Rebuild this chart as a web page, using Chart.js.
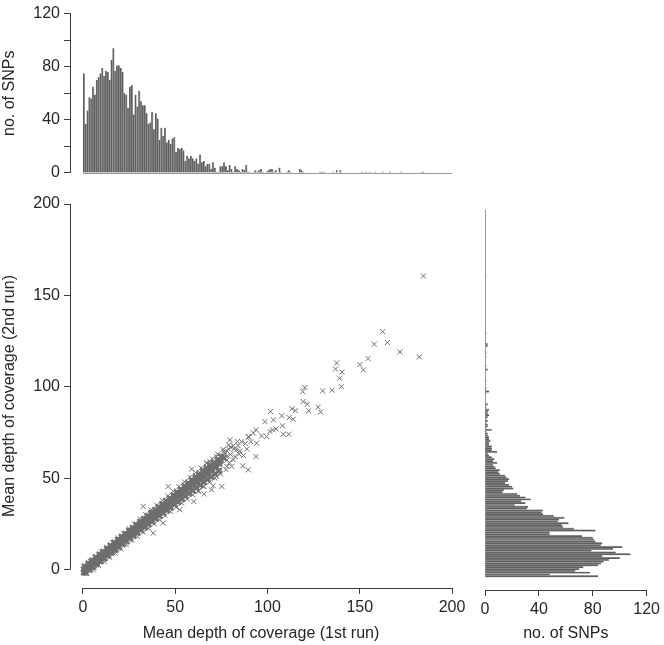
<!DOCTYPE html>
<html>
<head>
<meta charset="utf-8">
<script src="https://cdn.jsdelivr.net/npm/chart.js@4.4.0/dist/chart.umd.min.js"></script>
<style>
  html, body { margin: 0; padding: 0; background: #fff; }
  #wrap { position: relative; width: 664px; height: 645px; }
  #wrap canvas { position: absolute; left: 0; top: 0; }
</style>
</head>
<body>
<div id="wrap">
  <canvas id="top-hist" width="664" height="645"></canvas>
  <canvas id="scatter" width="664" height="645"></canvas>
  <canvas id="right-hist" width="664" height="645"></canvas>
</div>
<script>
/* ── data ── */

// 1st run depth histogram, bins of width 1 starting at 0
const topBinStart = 0;
const topBinWidth = 1;
const topCounts = [
  75, 37, 47, 57, 56, 65, 59, 70, 72, 75,
  79, 73, 77, 76, 70, 85, 94, 77, 81, 81,
  79, 76, 60, 59, 49, 65, 66, 44, 59, 50,
  62, 54, 51, 51, 45, 37, 38, 46, 33, 45,
  41, 25, 34, 28, 34, 23, 25, 22, 26, 27,
  16, 19, 18, 19, 17, 9, 13, 11, 13, 11,
  9, 11, 7, 14, 8, 9, 5, 7, 7, 3,
  8, 4, 1, 1, 5, 5, 8, 5, 2, 6,
  3, 1, 5, 3, 2, 1, 3, 2, 6, 1,
  1, 0, 1, 2, 1, 2, 3, 1, 0, 1,
  2, 3, 3, 1, 2, 0, 4, 1, 0, 0,
  1, 2, 1, 0, 0, 0, 0, 3, 2, 1,
  0, 0, 0, 0, 0, 0, 0, 0, 1, 1,
  1, 0, 0, 0, 0, 1, 0, 2, 0, 2,
  0, 0, 0, 0, 0, 0, 0, 0, 0, 0,
  0, 1, 0, 1, 0, 1, 0, 0, 1, 0,
  0, 0, 1, 0, 0, 0, 1, 0, 0, 0,
  0, 0, 1, 0, 0, 0, 0, 0, 0, 0,
  0, 0, 0, 1, 1, 0, 0, 0, 0, 0,
  0, 0, 0, 0, 0, 0, 0, 0, 0, 0
];

// 2nd run depth histogram, bins of width 1 starting at -4
const rightBinStart = -4;
const rightBinWidth = 1;
const rightCounts = [
  84, 48, 78, 67, 70, 73, 84, 86, 88, 92,
  100, 87, 108, 97, 79, 95, 102, 86, 87, 82,
  81, 80, 72, 48, 48, 82, 66, 58, 57, 62,
  54, 55, 59, 51, 43, 42, 43, 31, 32, 22,
  30, 27, 34, 30, 26, 24, 13, 14, 21, 20,
  18, 15, 17, 18, 16, 15, 11, 10, 11, 8,
  7, 6, 9, 6, 7, 5, 3, 2, 9, 5,
  5, 5, 3, 3, 4, 3, 3, 2, 2, 1,
  5, 1, 2, 2, 1, 2, 1, 2, 3, 2,
  2, 3, 1, 1, 2, 0, 0, 0, 0, 0,
  1, 3, 1, 1, 0, 0, 0, 1, 0, 0,
  0, 0, 0, 2, 0, 1, 0, 0, 0, 0,
  1, 0, 1, 0, 0, 0, 2, 2, 0, 0,
  0, 0, 0, 1, 0, 0, 0, 0, 0, 0,
  0, 0, 0, 0, 0, 0, 0, 0, 0, 0,
  0, 0, 0, 0, 0, 0, 0, 0, 0, 0,
  0, 0, 0, 0, 1, 0, 0, 0, 0, 0,
  0, 0, 0, 0, 0, 0, 0, 0, 0, 0,
  0, 0, 0, 0, 0, 0, 0, 0, 0, 0,
  0, 0, 0, 0, 0, 0, 0, 0, 0, 0,
  0
];

// [1st run, 2nd run] mean depth, the densely packed SNPs along the diagonal
const bandCorePairs = [
  [0.5, -1.5], [1, -1], [1.5, -0.5], [2, 0], [2.5, 0.5], [3, 1], [3.5, 1.2], [4, 1.8], [5, 2.5], [6, 3.2],
  [7, 4], [8, 4.8], [9, 5.8], [10, 6.5], [11, 7.3], [12, 8.2], [13, 9], [14, 9.6], [15, 10.5], [16, 11.2],
  [17, 12], [18, 12.9], [19, 13.6], [20, 14.5], [21, 15.4], [22, 16], [23, 17], [24, 17.8], [25, 18.6], [26, 19.5],
  [27, 20.1], [28, 21], [29, 21.8], [30, 22.7], [31, 23.4], [32, 24.3], [33, 25], [34, 25.9], [35, 26.8], [36, 27.5],
  [37, 28.4], [38, 29.1], [39, 30], [40, 30.8], [41, 31.6], [42, 32.5], [43, 33.2], [44, 34], [45, 34.9], [46, 35.6],
  [47, 36.5], [48, 37.3], [49, 38], [50, 38.9], [51, 39.7], [52, 40.5], [53, 41.3], [54, 42.1], [55, 43], [56, 43.7],
  [57, 44.6], [58, 45.3], [59, 46.2], [60, 47], [61, 47.8], [62, 48.6], [63, 49.4], [64, 50.2], [65, 51], [66, 51.8],
  [67, 52.5], [68, 53.4], [69, 54.2], [70, 55], [72, 56.5], [74, 58],
  [0.5, 0.2], [2.5, 1.8], [4.5, 3.4], [6.5, 5.1], [8.5, 6.6], [10.5, 8.3], [12.5, 9.8], [14.5, 11.5], [16.5, 13], [18.5, 14.7],
  [20.5, 16.2], [22.5, 17.9], [24.5, 19.4], [26.5, 21.1], [28.5, 22.6], [30.5, 24.3], [32.5, 25.8], [34.5, 27.5], [36.5, 29], [38.5, 30.7],
  [40.5, 32.2], [42.5, 33.9], [44.5, 35.4], [46.5, 37.1], [48.5, 38.6], [50.5, 40.3], [52.5, 41.8], [54.5, 43.5], [56.5, 45], [58.5, 46.7],
  [60.5, 48.2], [62.5, 49.9], [64.5, 51.4], [66.5, 53.1], [68.5, 54.6], [70.5, 56.3], [72.5, 57.8], [74.5, 59.5], [76.5, 61],
  [1.5, -1.6], [3.5, 0], [5.5, 1.5], [7.5, 3], [9.5, 4.6], [11.5, 6.1], [13.5, 7.7], [15.5, 9.2], [17.5, 10.8], [19.5, 12.3],
  [21.5, 13.9], [23.5, 15.4], [25.5, 17], [27.5, 18.5], [29.5, 20], [31.5, 21.6], [33.5, 23.1], [35.5, 24.7], [37.5, 26.2], [39.5, 27.8],
  [41.5, 29.3], [43.5, 30.8], [45.5, 32.4], [47.5, 33.9], [49.5, 35.5], [51.5, 37], [53.5, 38.5], [55.5, 40.1], [57.5, 41.6], [59.5, 43.2],
  [61.5, 44.7], [63.5, 46.2], [65.5, 47.8], [67.5, 49.3], [69.5, 50.8], [71.5, 52.4], [73.5, 54],
  [1, 1.8], [3, 3.4], [5, 5.1], [7, 6.7], [9, 8.3], [11, 9.9], [13, 11.5], [15, 13.2], [17, 14.8], [19, 16.4],
  [21, 18], [23, 19.6], [25, 21.3], [27, 22.9], [29, 24.5], [31, 26.1], [33, 27.7], [35, 29.4], [37, 31], [39, 32.6],
  [41, 34.2], [43, 35.8], [45, 37.5], [47, 39.1], [49, 40.7], [51, 42.3], [53, 43.9], [55, 45.6], [57, 47.2], [59, 48.8],
  [61, 50.4], [63, 52], [65, 53.7], [67, 55.3], [69, 56.9], [71, 58.5], [73, 60.1], [75, 61.8]
];

// [1st run, 2nd run] mean depth, the looser fringe and outlying SNPs
const coveragePairs = [
  [1, 0.5], [3, 2.5], [5, 4.2], [7, 5.8], [9, 7.5], [11, 9.2], [13, 10.8], [15, 12.4], [17, 14], [19, 15.6],
  [21, 17.3], [23, 19], [25, 20.6], [27, 22.3], [29, 24], [31, 25.7], [33, 27.5], [35, 29.2], [37, 30.9], [39, 32.6],
  [41, 34.4], [43, 36], [45, 37.8], [47, 39.5], [49, 41.2], [51, 43], [53, 44.6], [55, 46.4], [57, 48], [59, 49.8],
  [61, 51.5], [63, 53.2], [65, 55], [67, 56.5], [69, 58], [71, 59], [73, 60],
  [2, -2], [4, -0.2], [6, 1.4], [8, 3], [10, 4.6], [12, 6.2], [14, 7.8], [16, 9.3], [18, 10.9], [20, 12.5],
  [22, 14], [24, 15.6], [26, 17.2], [28, 18.7], [30, 20.3], [32, 21.8], [34, 23.4], [36, 25], [38, 26.4], [40, 28],
  [42, 29.6], [44, 31], [46, 32.6], [48, 34.2], [50, 35.6], [52, 37.2], [54, 38.7], [56, 40.3], [58, 41.8], [60, 43.3],
  [62, 44.8], [64, 46.3], [66, 47.8], [68, 49.2], [70, 50.5], [72, 52], [74, 53.5],
  [4, 4.6], [7, 7.2], [10, 9.7], [13, 12.3], [16, 14.8], [19, 17.4], [22, 19.9], [25, 22.5], [28, 25], [31, 27.6],
  [34, 30.1], [37, 32.7], [40, 35.2], [43, 37.8], [46, 40.3], [49, 42.9], [52, 45.4], [55, 48], [58, 50.5], [61, 53.1],
  [64, 55.6], [67, 58.2], [70, 60.7], [73, 63.2], [76, 65.8], [79, 68.3],
  [5.5, 0], [8.5, 2.3], [11.5, 4.5], [14.5, 6.8], [17.5, 9.1], [20.5, 11.4], [23.5, 13.7], [26.5, 16], [29.5, 18.2], [32.5, 20.5],
  [35.5, 22.8], [38.5, 25.1], [41.5, 27.3], [44.5, 29.6], [47.5, 31.9], [50.5, 34.2], [53.5, 36.5], [56.5, 38.7], [59.5, 41], [62.5, 43.3],
  [65.5, 45.6], [68.5, 47.9], [71.5, 50.1], [74.5, 52.4], [77.5, 54.7],
  [76, 62], [77, 63.5], [78, 65], [79, 66], [80, 67], [78, 60], [80, 63], [82, 66], [84, 68], [86, 70],
  [85, 65], [88, 69], [90, 72.5], [91, 70], [87, 62.5],
  [32.7, 34.6], [38.1, 20], [43.5, 25.5], [46.2, 45.5], [52.5, 32.8], [54, 39.2], [58.9, 55], [60.1, 37.3],
  [62.5, 42.8], [65.2, 45.5], [65.6, 41.5], [67, 58.3], [68.8, 59.2], [69.7, 43.7], [70.6, 45.9], [72.4, 61.9],
  [72.4, 51], [74.2, 54.6], [75.2, 60.1], [75.3, 45.5], [76.4, 64.7], [77.9, 61.9], [77.9, 56.5], [79.3, 58.6],
  [79.7, 71], [80.6, 56.5], [81.5, 67.8], [81.5, 60.1], [82.4, 61.9], [83.3, 65.6], [83.7, 70.1], [84.7, 63.2],
  [86.6, 56.8], [88.8, 66], [89.6, 72.8], [89.6, 54.6], [92.4, 74.7], [93.8, 76.5], [93.8, 61.9], [94.1, 69.2],
  [96.8, 73.2], [98.6, 81], [99.5, 72.8], [101.4, 75.6], [101.7, 86.5], [102.8, 76.5], [103.2, 82], [104.6, 77],
  [107.7, 84.2], [108.2, 78.7], [108.6, 74.1], [111.5, 74.1], [111.8, 83.2], [113.3, 88], [114, 82.3], [115.1, 87],
  [119.1, 97.4], [119.4, 92], [120.3, 99.6], [121.6, 90.5], [122.3, 86.9], [127.5, 88.9], [128.8, 86.2], [129.9, 97.8],
  [135.1, 98.2], [136.9, 109.7], [137.5, 113.1], [139.1, 104.7], [140, 100.2], [140.4, 108], [150.1, 112.2], [152, 109.3],
  [154.5, 115.5], [157.9, 123.3], [162.4, 130.2], [165, 124.2], [171.8, 119.1], [182.3, 116.4], [184.5, 160.7]
];

const scatterXTicks = [0, 50, 100, 150, 200];
const scatterYTicks = [0, 50, 100, 150, 200];

/* ── styles ── */

const INK = '#262626';
const AXIS = '#3c3c3c';
const MARK = '#6e6e6e';
const FONT = { family: "'Liberation Sans', Arial, sans-serif", size: 16 };

function sideLabel(v) {
  return v % 40 === 0 ? String(v) : '';
}

// R-style axis line: only from first to last tick
const rAxisLines = {
  id: 'rAxisLines',
  afterDraw(chart) {
    const { ctx, chartArea, scales } = chart;
    const px = v => Math.round(v) + 0.5;
    ctx.save();
    ctx.strokeStyle = AXIS;
    ctx.lineWidth = 1;
    ctx.beginPath();
    ctx.moveTo(scales.x.getPixelForValue(scatterXTicks[0]), px(chartArea.bottom));
    ctx.lineTo(scales.x.getPixelForValue(scatterXTicks[scatterXTicks.length - 1]), px(chartArea.bottom));
    ctx.moveTo(px(chartArea.left), scales.y.getPixelForValue(scatterYTicks[0]));
    ctx.lineTo(px(chartArea.left), scales.y.getPixelForValue(scatterYTicks[scatterYTicks.length - 1]));
    ctx.stroke();
    ctx.restore();
  }
};

// zero-height bars in R's hist show as a thin baseline across all bins
function baselinePlugin(horizontal, start, width, n) {
  return {
    id: 'histBaseline',
    beforeDatasetsDraw(chart) {
      const { ctx, scales } = chart;
      ctx.save();
      ctx.strokeStyle = '#9a9a9a';
      ctx.lineWidth = 1;
      ctx.beginPath();
      if (horizontal) {
        const y = Math.round(scales.y.getPixelForValue(0)) + 0.5;
        ctx.moveTo(scales.x.getPixelForValue(start), y);
        ctx.lineTo(scales.x.getPixelForValue(start + width * n), y);
      } else {
        const x = Math.round(scales.x.getPixelForValue(0)) + 0.5;
        ctx.moveTo(x, scales.y.getPixelForValue(start));
        ctx.lineTo(x, scales.y.getPixelForValue(start + width * n));
      }
      ctx.stroke();
      ctx.restore();
    }
  };
}

const countAxis = {
  min: 0,
  max: 120,
  ticks: { stepSize: 20, callback: sideLabel, color: INK, font: FONT, padding: 4 },
  grid: { drawOnChartArea: false, tickLength: 6, color: AXIS },
  border: { color: AXIS },
  title: { display: true, text: 'no. of SNPs', color: INK, font: FONT, padding: 0 }
};

/* ── top histogram ── */

new Chart(document.getElementById('top-hist'), {
  type: 'bar',
  data: {
    datasets: [{
      data: topCounts.map((c, i) => ({ x: topBinStart + topBinWidth * (i + 0.5), y: c })),
      backgroundColor: '#5f5f5f',
      borderColor: '#ababab',
      borderWidth: { top: 0, right: 0.7, bottom: 0, left: 0 },
      barPercentage: 1,
      categoryPercentage: 1
    }]
  },
  options: {
    responsive: false,
    animation: false,
    layout: { padding: { left: 0, right: 212, top: 6, bottom: 472 } },
    plugins: { legend: { display: false }, tooltip: { enabled: false } },
    scales: {
      x: { type: 'linear', min: -7, max: 200, offset: false, display: false },
      y: { ...countAxis, afterFit: s => { s.width = 70; } }
    }
  },
  plugins: [baselinePlugin(true, topBinStart, topBinWidth, topCounts.length)]
});

/* ── scatter ── */

new Chart(document.getElementById('scatter'), {
  type: 'scatter',
  data: {
    datasets: [{
      data: bandCorePairs.map(([x, y]) => ({ x, y })),
      pointStyle: 'crossRot',
      pointRadius: 3.8,
      borderColor: MARK,
      borderWidth: 2.2
    }, {
      data: coveragePairs.map(([x, y]) => ({ x, y })),
      pointStyle: 'crossRot',
      pointRadius: 3.6,
      borderColor: MARK,
      borderWidth: 1
    }]
  },
  options: {
    responsive: false,
    animation: false,
    layout: { padding: { left: 0, right: 212, top: 204, bottom: 2 } },
    plugins: { legend: { display: false }, tooltip: { enabled: false } },
    scales: {
      x: {
        type: 'linear', min: -7, max: 200,
        afterBuildTicks: s => { s.ticks = scatterXTicks.map(v => ({ value: v })); },
        afterFit: s => { s.height = 55; },
        ticks: { color: INK, font: FONT, padding: 4, maxRotation: 0 },
        grid: { drawOnChartArea: false, tickLength: 6, color: AXIS },
        border: { display: false },
        title: { display: true, text: 'Mean depth of coverage (1st run)', color: INK, font: FONT, padding: 0 }
      },
      y: {
        type: 'linear', min: -10, max: 200,
        afterBuildTicks: s => { s.ticks = scatterYTicks.map(v => ({ value: v })); },
        afterFit: s => { s.width = 70; },
        ticks: { color: INK, font: FONT, padding: 4 },
        grid: { drawOnChartArea: false, tickLength: 6, color: AXIS },
        border: { display: false },
        title: { display: true, text: 'Mean depth of coverage (2nd run)', color: INK, font: FONT, padding: 0 }
      }
    }
  },
  plugins: [rAxisLines]
});

/* ── right histogram ── */

new Chart(document.getElementById('right-hist'), {
  type: 'bar',
  data: {
    datasets: [{
      data: rightCounts.map((c, i) => ({ y: rightBinStart + rightBinWidth * (i + 0.5), x: c })),
      backgroundColor: '#5f5f5f',
      borderColor: '#ababab',
      borderWidth: { top: 0.7, right: 0, bottom: 0, left: 0 },
      barPercentage: 1,
      categoryPercentage: 1
    }]
  },
  options: {
    indexAxis: 'y',
    responsive: false,
    animation: false,
    layout: { padding: { left: 485, right: 12, top: 204, bottom: 2 } },
    plugins: { legend: { display: false }, tooltip: { enabled: false } },
    scales: {
      x: { ...countAxis, position: 'bottom', afterFit: s => { s.height = 53; }, ticks: { ...countAxis.ticks, maxRotation: 0 } },
      y: { type: 'linear', min: -11, max: 200, offset: false, display: false }
    }
  },
  plugins: [baselinePlugin(false, rightBinStart, rightBinWidth, rightCounts.length)]
});
</script>
</body>
</html>
